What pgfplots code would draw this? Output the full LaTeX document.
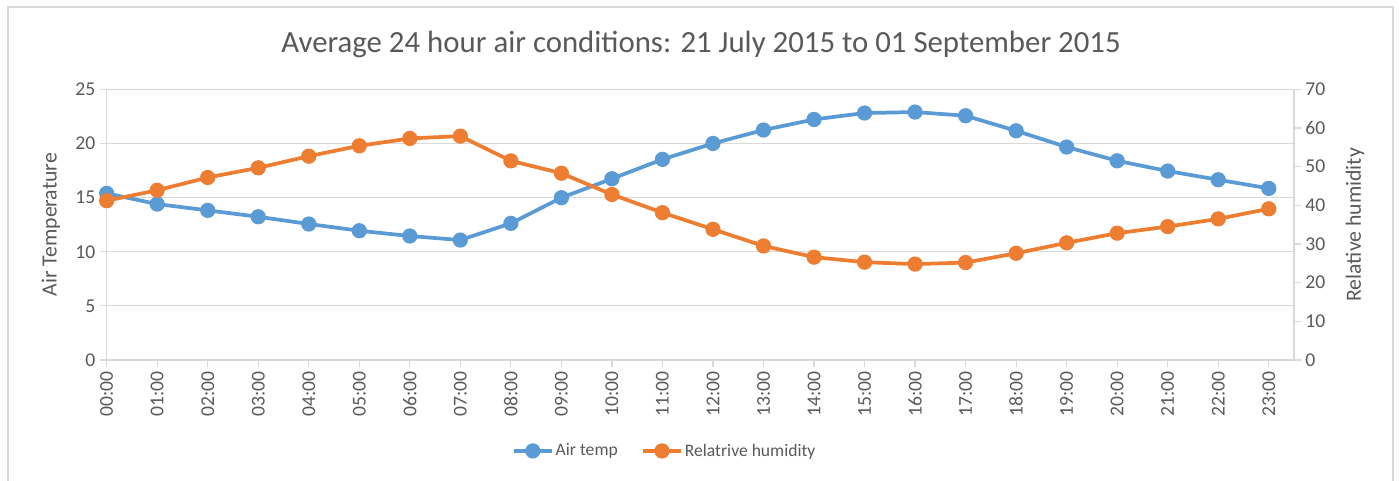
\documentclass[border=0pt]{standalone}
\usepackage{fontspec}
\setmainfont{Carlito}
\usepackage{pgfplots}
\usepackage{pgfplotstable}
\pgfplotsset{compat=1.18}
\definecolor{tblue}{HTML}{5B9BD5}
\definecolor{torange}{HTML}{ED7D31}
\definecolor{tgray}{HTML}{595959}
\definecolor{lgray}{HTML}{D9D9D9}

\pgfplotstableread{
h temp rh
0 15.39 41.2
1 14.40 43.9
2 13.82 47.2
3 13.23 49.7
4 12.56 52.7
5 11.94 55.4
6 11.45 57.3
7 11.08 57.9
8 12.62 51.5
9 14.99 48.3
10 16.74 42.8
11 18.53 38.1
12 20.00 33.8
13 21.24 29.5
14 22.22 26.6
15 22.81 25.3
16 22.90 24.8
17 22.56 25.2
18 21.17 27.6
19 19.67 30.3
20 18.40 32.8
21 17.45 34.5
22 16.65 36.5
23 15.85 39.1
}\datatable

\pgfplotsset{
  common/.style={
    at={(80pt,90.75pt)}, anchor=south west,
    scale only axis, width=890.5pt, height=203pt,
    xmin=0, xmax=23.5,
    axis line style={lgray, line width=0.9pt},
    tick style={lgray, line width=0.9pt},
    tick align=outside,
    major tick length=5pt,
    ticklabel style={font=\fontsize{14.7pt}{17pt}\selectfont, text=tgray},
    label style={font=\fontsize{16.3pt}{19pt}\selectfont, text=tgray},
    /pgf/number format/assume math mode=true,
    clip=false,
  },
  ser/.style={line width=2.8pt, mark=*, mark size=4.3pt, mark options={solid, line width=0.3pt}},
}

\begin{document}
\begin{tikzpicture}
\useasboundingbox (0,0) rectangle (1049.25pt,360.75pt);
\draw[lgray, line width=1.5pt] (6pt,-2pt) -- (6pt,355.5pt) -- (1044.75pt,355.5pt) -- (1044.75pt,-2pt);
\node[anchor=base, text=tgray, font=\fontsize{23.1pt}{27pt}\selectfont] at (525.75pt,321pt) {Average 24 hour air conditions: 21 July 2015 to 01 September 2015};

\begin{axis}[common,
  ymin=0, ymax=25, ytick={0,5,...,25},
  axis y line*=left, axis x line*=bottom,
  xtick={0,...,23},
  xticklabels={00:00,01:00,02:00,03:00,04:00,05:00,06:00,07:00,08:00,09:00,10:00,11:00,12:00,13:00,14:00,15:00,16:00,17:00,18:00,19:00,20:00,21:00,22:00,23:00},
  x tick label style={rotate=90, anchor=east},
  ymajorgrids, grid style={lgray, line width=0.9pt},
  ylabel={Air Temperature},
  ylabel style={at={(axis description cs:-0.0469,0.5)}, anchor=center},
]
\addplot[ser, color=tblue, mark options={fill=tblue, draw=tblue}] table[x=h, y=temp] {\datatable};
\end{axis}

\begin{axis}[common,
  ymin=0, ymax=70, ytick={0,10,...,70},
  axis y line*=right, axis x line=none,
  ylabel={Relative humidity},
  ylabel style={at={(axis description cs:1.0514,0.5)}, anchor=center},
  legend style={at={(0.470,-0.336)}, anchor=center, draw=none, fill=none,
    legend columns=2, font=\fontsize{13.2pt}{16pt}\selectfont, text=tgray,
    /tikz/every even column/.append style={column sep=16pt},
    inner sep=0pt, nodes={inner sep=1.5pt}},
  legend image code/.code={\draw[mark repeat=2, mark phase=2] plot coordinates {(0pt,0pt) (14.25pt,0pt) (28.5pt,0pt)};},
]
\addlegendimage{ser, color=tblue, mark options={fill=tblue, draw=tblue}}
\addlegendentry{Air temp}
\addplot[ser, color=torange, mark options={fill=torange, draw=torange}] table[x=h, y=rh] {\datatable};
\addlegendentry{Relatrive humidity}
\end{axis}
\end{tikzpicture}
\end{document}
